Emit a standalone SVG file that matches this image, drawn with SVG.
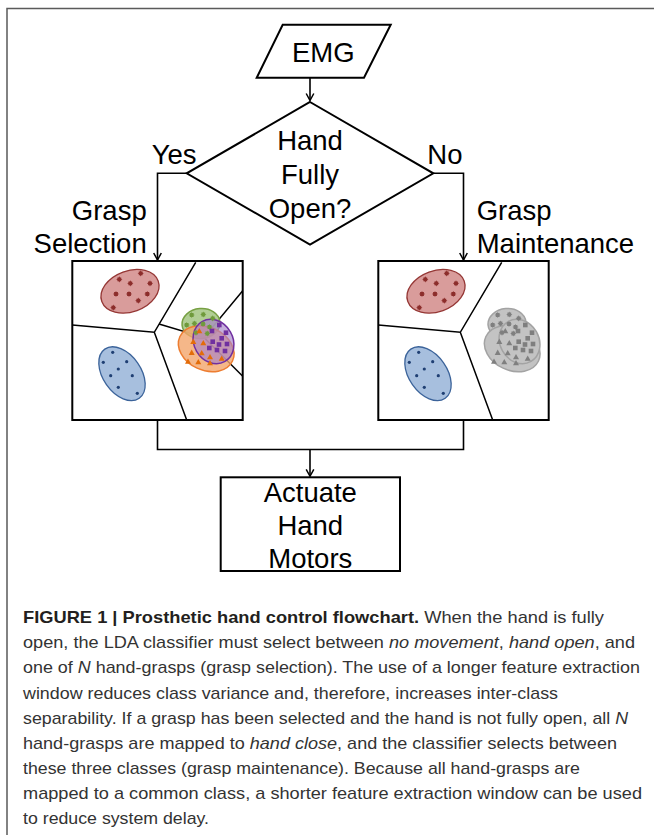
<svg xmlns="http://www.w3.org/2000/svg" xmlns:xlink="http://www.w3.org/1999/xlink" width="655" height="835" viewBox="0 0 655 835">
<style>
.t{font-family:"Liberation Sans",Arial,sans-serif;font-size:27.5px;fill:#000}
.cap{font-family:"Liberation Sans",Arial,sans-serif;font-size:17px;fill:#333}
.b{font-weight:bold;fill:#231f20}
.i{font-style:italic}
.ln{fill:none;stroke:#000;stroke-width:1.6}
.box{fill:#fff;stroke:#000;stroke-width:2}
.bd{fill:none;stroke:#000;stroke-width:1.5}
</style>
<defs>
<marker id="ah" markerUnits="userSpaceOnUse" markerWidth="12" markerHeight="12" refX="0" refY="0" orient="auto" overflow="visible" viewBox="-8 -6 10 12">
<path d="M-7,-3.8 L0,0 L-7,3.8" fill="none" stroke="#000" stroke-width="1.5"/>
</marker>
<path id="fl" d="M0,-3.1 L1.1,-1.1 L3.1,0 L1.1,1.1 L0,3.1 L-1.1,1.1 L-3.1,0 L-1.1,-1.1Z M-1.9,-1.9h3.8v3.8h-3.8z"/>
<rect id="sq" x="-2.3" y="-2.3" width="4.6" height="4.6"/>
<path id="tr" d="M0,-3.1 L3,2.2 L-3,2.2Z"/>
<circle id="dt" r="1.6"/>
<g id="redDots">
<use href="#fl" x="140.7" y="273.3"/><use href="#fl" x="119.3" y="279.3"/><use href="#fl" x="130.3" y="283.3"/><use href="#fl" x="150" y="283.3"/><use href="#fl" x="116" y="294"/><use href="#fl" x="129" y="294"/><use href="#fl" x="147.3" y="294"/><use href="#fl" x="138.3" y="300.7"/><use href="#fl" x="113.3" y="307.7"/>
</g>
<g id="blueDots">
<use href="#dt" x="112.7" y="352.3"/><use href="#dt" x="103.3" y="362.3"/><use href="#dt" x="126.7" y="361.7"/><use href="#dt" x="118.3" y="369"/><use href="#dt" x="110.7" y="375.7"/><use href="#dt" x="132.3" y="375.7"/><use href="#dt" x="118.3" y="387.3"/><use href="#dt" x="137.3" y="393.3"/>
</g>
<g id="gFl">
<use href="#fl" x="191.7" y="315"/><use href="#fl" x="203.3" y="314.5"/><use href="#fl" x="212.7" y="318.3"/><use href="#fl" x="186.7" y="325"/><use href="#fl" x="194.5" y="323.5"/><use href="#fl" x="203" y="324"/><use href="#fl" x="209.5" y="327"/><use href="#fl" x="196" y="332.7"/><use href="#fl" x="207.3" y="333.5"/>
</g>
<g id="gSq">
<use href="#sq" x="219.3" y="325"/><use href="#sq" x="226" y="332.7"/><use href="#sq" x="212" y="331"/><use href="#sq" x="221.7" y="338.3"/><use href="#sq" x="212.7" y="341.7"/><use href="#sq" x="219" y="344.5"/><use href="#sq" x="227" y="344"/><use href="#sq" x="209.3" y="348"/><use href="#sq" x="217" y="350"/><use href="#sq" x="225" y="351"/>
</g>
<g id="gTr">
<use href="#tr" x="199.3" y="331"/><use href="#tr" x="193.3" y="341.7"/><use href="#tr" x="203.3" y="343"/><use href="#tr" x="191.7" y="352.7"/><use href="#tr" x="201.7" y="353"/><use href="#tr" x="210" y="357"/><use href="#tr" x="198.3" y="362"/><use href="#tr" x="210" y="363"/><use href="#tr" x="221.7" y="358.5"/><use href="#tr" x="188" y="361.5"/>
</g>
</defs>
<rect width="655" height="835" fill="#fff"/>
<path d="M7,835 V8.6 H654" fill="none" stroke="#5a5a5a" stroke-width="1.5"/>

<g id="connectors">
<path class="ln" d="M310,78 V100.5" marker-end="url(#ah)"/>
<path class="ln" d="M186.7,173.3 H157.5 V260" marker-end="url(#ah)"/>
<path class="ln" d="M433.3,173.3 H463.5 V260" marker-end="url(#ah)"/>
<path class="ln" d="M157.5,420 V449.5 H463.5 V420"/>
<path class="ln" d="M310,449.5 V476.3" marker-end="url(#ah)"/>
</g>

<g id="emg">
<path class="box" d="M282.7,24.7 H390.7 L364,77.7 H256.7 Z"/>
<text class="t" x="323.3" y="62.3" text-anchor="middle">EMG</text>
</g>

<g id="decision">
<path class="box" d="M310,102 L433.3,173.3 L310,244.5 L186.7,173.3 Z"/>
<text class="t" x="310" y="150" text-anchor="middle">Hand</text>
<text class="t" x="310" y="184" text-anchor="middle">Fully</text>
<text class="t" x="310" y="218" text-anchor="middle">Open?</text>
</g>

<g id="labels">
<text class="t" x="151.7" y="163.5">Yes</text>
<text class="t" x="427.3" y="163.5">No</text>
<text class="t" x="146.7" y="220" text-anchor="end">Grasp</text>
<text class="t" x="146.7" y="253" text-anchor="end">Selection</text>
<text class="t" x="476.7" y="220">Grasp</text>
<text class="t" x="476.7" y="253">Maintenance</text>
</g>

<g id="grasp-selection">
<rect class="box" x="72.3" y="261" width="170.4" height="159"/>
<ellipse cx="130" cy="291.3" rx="30" ry="20.5" transform="rotate(-20 130 291.3)" fill="#d99c9b" stroke="#953735" stroke-width="1.3"/>
<use href="#redDots" fill="#8c2d2b"/>
<ellipse cx="122" cy="373.7" rx="30" ry="19" transform="rotate(55 122 373.7)" fill="#a7bfde" stroke="#3b639a" stroke-width="1.3"/>
<use href="#blueDots" fill="#1f3f73"/>
<path class="bd" d="M72.3,325 L154.3,332.3 L195.7,262.3 M154.3,332.3 L186.7,420 M159,324 L204,337.5 L242.5,291 M204,337.5 L242.5,376"/>
<ellipse cx="201" cy="323.5" rx="19" ry="15" transform="rotate(-5 201 323.5)" fill="#a9c98a" fill-opacity="0.9" stroke="#77a043" stroke-width="1.5"/>
<ellipse cx="206.2" cy="348.7" rx="29" ry="21.5" transform="rotate(25 206.2 348.7)" fill="#f2a56c" fill-opacity="0.8" stroke="#ed7d31" stroke-width="1.5"/>
<ellipse cx="213.5" cy="341.5" rx="23" ry="19.5" transform="rotate(60 213.5 341.5)" fill="#a683c9" fill-opacity="0.65" stroke="#7030a0" stroke-width="1.5"/>
<use href="#gFl" fill="#6f9a3c"/>
<use href="#gTr" fill="#e36c09"/>
<use href="#gSq" fill="#7030a0"/>
</g>

<g id="grasp-maintenance">
<rect class="box" x="378.3" y="261" width="170.4" height="159"/>
<ellipse cx="436" cy="291.3" rx="30" ry="20.5" transform="rotate(-20 436 291.3)" fill="#d99c9b" stroke="#953735" stroke-width="1.3"/>
<use href="#redDots" x="306" fill="#8c2d2b"/>
<ellipse cx="428" cy="373.7" rx="30" ry="19" transform="rotate(55 428 373.7)" fill="#a7bfde" stroke="#3b639a" stroke-width="1.3"/>
<use href="#blueDots" x="306" fill="#1f3f73"/>
<path class="bd" d="M378.3,325 L460.3,332.3 L501.7,262.3 M460.3,332.3 L492.7,420"/>
<ellipse cx="507" cy="323.5" rx="19" ry="15" transform="rotate(-5 507 323.5)" fill="#c3c3c3" stroke="#a3a3a3" stroke-width="1.5"/>
<ellipse cx="512.2" cy="348.7" rx="29" ry="21.5" transform="rotate(25 512.2 348.7)" fill="#c3c3c3" stroke="#a3a3a3" stroke-width="1.5"/>
<ellipse cx="519.5" cy="341.5" rx="23" ry="19.5" transform="rotate(60 519.5 341.5)" fill="#c3c3c3" stroke="#a3a3a3" stroke-width="1.5"/>
<use href="#gFl" x="306" fill="#7f7f7f"/>
<use href="#gTr" x="306" fill="#7f7f7f"/>
<use href="#gSq" x="306" fill="#7f7f7f"/>
</g>

<g id="actuate">
<rect class="box" x="220.7" y="477.3" width="179.3" height="93.7"/>
<text class="t" x="310.3" y="501.5" text-anchor="middle">Actuate</text>
<text class="t" x="310.3" y="534.5" text-anchor="middle">Hand</text>
<text class="t" x="310.3" y="567.5" text-anchor="middle">Motors</text>
</g>

<g id="caption">
<text class="cap" x="23" y="623" textLength="581" lengthAdjust="spacingAndGlyphs"><tspan class="b">FIGURE 1 | Prosthetic hand control flowchart.</tspan> When the hand is fully</text>
<text class="cap" x="23" y="648" textLength="612" lengthAdjust="spacingAndGlyphs">open, the LDA classifier must select between <tspan class="i">no movement</tspan>, <tspan class="i">hand open</tspan>, and</text>
<text class="cap" x="23" y="673" textLength="617" lengthAdjust="spacingAndGlyphs">one of <tspan class="i">N</tspan> hand-grasps (grasp selection). The use of a longer feature extraction</text>
<text class="cap" x="23" y="698.5" textLength="535" lengthAdjust="spacingAndGlyphs">window reduces class variance and, therefore, increases inter-class</text>
<text class="cap" x="23" y="723.5" textLength="605" lengthAdjust="spacingAndGlyphs">separability. If a grasp has been selected and the hand is not fully open, all <tspan class="i">N</tspan></text>
<text class="cap" x="23" y="748.5" textLength="594" lengthAdjust="spacingAndGlyphs">hand-grasps are mapped to <tspan class="i">hand close</tspan>, and the classifier selects between</text>
<text class="cap" x="23" y="774" textLength="557" lengthAdjust="spacingAndGlyphs">these three classes (grasp maintenance). Because all hand-grasps are</text>
<text class="cap" x="23" y="799" textLength="619" lengthAdjust="spacingAndGlyphs">mapped to a common class, a shorter feature extraction window can be used</text>
<text class="cap" x="23" y="824" textLength="186" lengthAdjust="spacingAndGlyphs">to reduce system delay.</text>
</g>
</svg>
